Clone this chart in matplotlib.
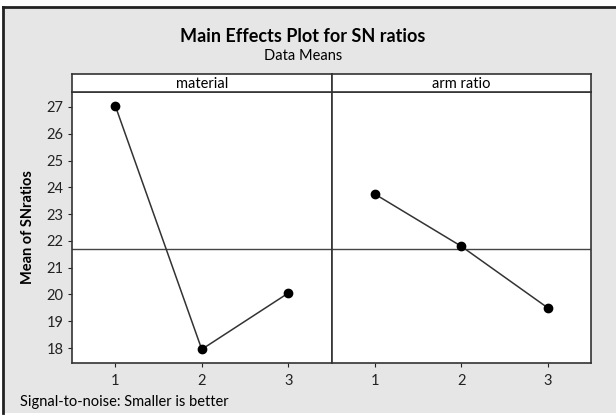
import matplotlib.pyplot as plt
from matplotlib.lines import Line2D
from matplotlib.patches import Rectangle

# factor panels and their level means
factors = ["material", "arm ratio"]
levels = [1, 2, 3]
material_means = [27.05, 17.95, 20.05]
arm_ratio_means = [23.75, 21.8, 19.5]
yticks = [18, 19, 20, 21, 22, 23, 24, 25, 26, 27]

plt.rcParams['font.family'] = ['Lato', 'DejaVu Sans']

W, H = 616, 416
fig = plt.figure(figsize=(W / 100, H / 100), dpi=100)
fig.patch.set_facecolor('white')

# gray background with dark frame on top/left
fig.add_artist(Rectangle((3 / W, 3 / H), 1, 1 - 10 / H, transform=fig.transFigure,
                         facecolor='#e6e6e6', edgecolor='none', zorder=0))
fig.add_artist(Line2D([3 / W, 1], [1 - 7 / H] * 2, transform=fig.transFigure, color='#222222', lw=2))
fig.add_artist(Line2D([3 / W] * 2, [3 / H, 1 - 7 / H], transform=fig.transFigure, color='#222222', lw=2))

grand_mean = sum(material_means + arm_ratio_means) / 6

left, right, bottom, top = 72 / W, 591 / W, 1 - 363 / H, 1 - 92 / H
strip_h = 18 / H
pw = (right - left) / 2

for i, (name, vals) in enumerate(zip(factors, [material_means, arm_ratio_means])):
    ax = fig.add_axes([left + i * pw, bottom, pw, top - bottom])
    ax.set_facecolor('white')
    ax.axhline(grand_mean, color='#444444', lw=1)
    ax.plot(levels, vals, color='#333333', lw=1.1, marker='o', ms=6, mfc='black', mec='black')
    ax.set_xlim(0.5, 3.5)
    ax.set_ylim(17.44, 27.56)
    ax.set_xticks(levels)
    ax.tick_params(axis='x', direction='out', length=3, pad=5, labelsize=10.5, colors='#222222')
    if i == 0:
        ax.set_yticks(yticks)
        ax.tick_params(axis='y', direction='out', length=3, pad=3, labelsize=10.5, colors='#222222')
        ax.set_ylabel('Mean of SNratios', fontsize=10.5, fontweight='bold', labelpad=8)
    else:
        ax.set_yticks([])
    for s in ax.spines.values():
        s.set_color('#333333')
        s.set_linewidth(1.2)

    # strip label
    sax = fig.add_axes([left + i * pw, top, pw, strip_h])
    sax.set_facecolor('white')
    sax.set_xticks([])
    sax.set_yticks([])
    for s in sax.spines.values():
        s.set_color('#333333')
        s.set_linewidth(1.2)
    sax.text(0.5, 0.45, name, ha='center', va='center', fontsize=10.5, transform=sax.transAxes)

cx = 303 / W
fig.text(cx, 1 - 37 / H, 'Main Effects Plot for SN ratios', ha='center', va='center',
         fontsize=13, fontweight='bold')
fig.text(cx, 1 - 56 / H, 'Data Means', ha='center', va='center', fontsize=10.5)
fig.text(20 / W, 1 - 402 / H, 'Signal-to-noise: Smaller is better', ha='left', va='center', fontsize=10.5)

fig.savefig('out.png', dpi=100)
